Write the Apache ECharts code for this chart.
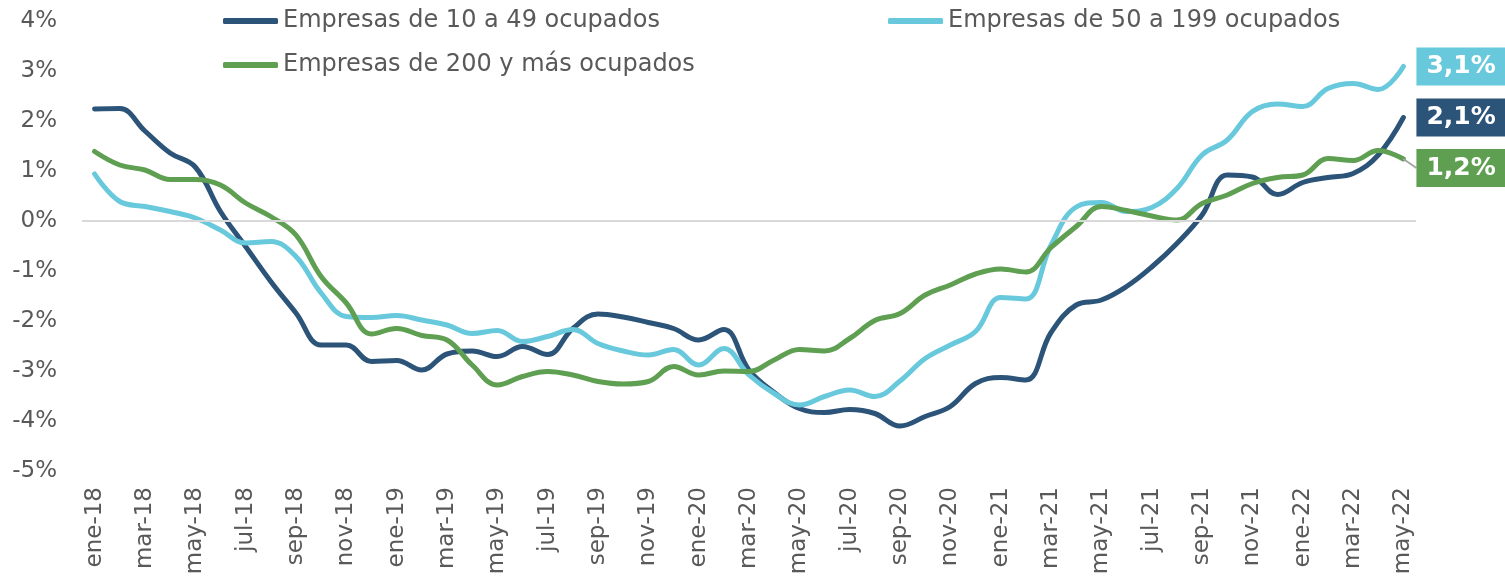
<!DOCTYPE html>
<html>
<head>
<meta charset="utf-8">
<script src="https://cdn.jsdelivr.net/npm/echarts@6/dist/echarts.min.js"></script>
<style>
  html, body { margin: 0; padding: 0; background: #fff; }
  #chart { width: 1505px; height: 579px; }
</style>
</head>
<body>
<div id="chart"></div>
<script>
// meses (ene-18 ... may-22)
const months = [
  'ene-18', 'feb-18', 'mar-18', 'abr-18', 'may-18', 'jun-18', 'jul-18', 'ago-18', 'sep-18', 'oct-18', 'nov-18', 'dic-18',
  'ene-19', 'feb-19', 'mar-19', 'abr-19', 'may-19', 'jun-19', 'jul-19', 'ago-19', 'sep-19', 'oct-19', 'nov-19', 'dic-19',
  'ene-20', 'feb-20', 'mar-20', 'abr-20', 'may-20', 'jun-20', 'jul-20', 'ago-20', 'sep-20', 'oct-20', 'nov-20', 'dic-20',
  'ene-21', 'feb-21', 'mar-21', 'abr-21', 'may-21', 'jun-21', 'jul-21', 'ago-21', 'sep-21', 'oct-21', 'nov-21', 'dic-21',
  'ene-22', 'feb-22', 'mar-22', 'abr-22', 'may-22'
]

const names = ['Empresas de 10 a 49 ocupados', 'Empresas de 50 a 199 ocupados', 'Empresas de 200 y más ocupados']

// tasa de variación (%)
const small = [
  2.24, 2.25, 1.80, 1.36, 1.08, 0.19, -0.51, -1.21, -1.84, -2.48, -2.48, -2.81,
  -2.79, -2.98, -2.66, -2.60, -2.71, -2.51, -2.67, -2.15, -1.86, -1.92, -2.03, -2.15,
  -2.38, -2.17, -2.98, -3.43, -3.75, -3.83, -3.77, -3.85, -4.10, -3.91, -3.71, -3.25,
  -3.13, -3.18, -2.23, -1.68, -1.58, -1.31, -0.92, -0.45, 0.12, 0.92, 0.88, 0.53,
  0.77, 0.87, 0.95, 1.32, 2.07
]
const medium = [
  0.94, 0.39, 0.29, 0.19, 0.06, -0.18, -0.44, -0.41, -0.71, -1.44, -1.91, -1.93,
  -1.89, -1.98, -2.08, -2.25, -2.19, -2.41, -2.31, -2.17, -2.45, -2.60, -2.68, -2.57,
  -2.88, -2.55, -3.08, -3.45, -3.68, -3.51, -3.38, -3.51, -3.20, -2.75, -2.48, -2.21,
  -1.53, -1.56, -0.48, 0.28, 0.37, 0.19, 0.27, 0.65, 1.32, 1.62, 2.19, 2.34,
  2.29, 2.65, 2.75, 2.63, 3.09
]
const large = [
  1.39, 1.12, 1.02, 0.83, 0.83, 0.72, 0.36, 0.09, -0.28, -1.11, -1.64, -2.26,
  -2.15, -2.29, -2.38, -2.88, -3.28, -3.11, -3.01, -3.08, -3.21, -3.26, -3.21, -2.91,
  -3.08, -3.00, -3.01, -2.78, -2.57, -2.60, -2.35, -1.99, -1.85, -1.48, -1.28, -1.06,
  -0.96, -1.02, -0.53, -0.11, 0.29, 0.21, 0.10, 0.02, 0.35, 0.52, 0.75, 0.87,
  0.92, 1.25, 1.21, 1.41, 1.24
]

const colors = ['#2C5479', '#69C9DC', '#5F9F52']
const FONT = 'DejaVu Sans'
const TEXT_COLOR = '#595959'

const chart = echarts.init(document.getElementById('chart'))

// último dato con etiqueta de color
function withEndLabel(values, color) {
  const last = values.length - 1
  return values.map((v, i) => {
    if (i !== last) return v
    return {
      value: v,
      label: {
        show: true,
        position: 'right',
        distance: 13,
        formatter: (p) => p.value.toFixed(1).replace('.', ',') + '%',
        color: '#fff',
        fontFamily: FONT,
        fontWeight: 'bold',
        fontSize: 25,
        lineHeight: 26,
        backgroundColor: color,
        padding: [6, 10, 6, 10]
      }
    }
  })
}

function legendAt(name, left, top) {
  return {
    data: [name],
    left: left,
    top: top,
    padding: 0,
    icon: 'roundRect',
    itemWidth: 55,
    itemHeight: 6,
    selectedMode: false,
    textStyle: { color: TEXT_COLOR, fontFamily: FONT, fontSize: 24 }
  }
}

function lineSeries(name, values, color, extra) {
  return Object.assign({
    name: name,
    type: 'line',
    data: withEndLabel(values, color),
    smooth: 0.4,
    symbol: 'circle',
    symbolSize: 0,
    showSymbol: true,
    lineStyle: { color: color, width: 5, cap: 'round' },
    itemStyle: { color: color },
    emphasis: { disabled: true }
  }, extra || {})
}

const option = {
  animation: false,
  textStyle: { fontFamily: FONT },
  legend: [
    legendAt(names[0], 223, 9),
    legendAt(names[1], 888, 9),
    legendAt(names[2], 223, 53)
  ],
  grid: { left: 82, right: 89, top: 21, bottom: 108 },
  xAxis: {
    type: 'category',
    data: months,
    boundaryGap: true,
    axisLine: { show: false },
    axisTick: { show: false },
    axisLabel: {
      interval: 1,
      rotate: 90,
      margin: 16,
      color: TEXT_COLOR,
      fontFamily: FONT,
      fontSize: 23
    }
  },
  yAxis: {
    type: 'value',
    min: -5,
    max: 4,
    interval: 1,
    axisLine: { show: false },
    axisTick: { show: false },
    splitLine: { show: false },
    axisLabel: {
      formatter: '{value}%',
      margin: 25,
      color: TEXT_COLOR,
      fontFamily: FONT,
      fontSize: 23
    }
  },
  series: [
    lineSeries(names[0], small, colors[0], {
      // línea del cero
      markLine: {
        silent: true,
        symbol: 'none',
        label: { show: false },
        lineStyle: { color: '#D9D9D9', width: 2, type: 'solid' },
        data: [{ yAxis: 0 }]
      }
    }),
    lineSeries(names[1], medium, colors[1]),
    lineSeries(names[2], large, colors[2], {
      labelLayout: { dy: 9 },
      labelLine: { show: true, lineStyle: { color: '#A6A6A6', width: 2 } }
    })
  ]
}

chart.setOption(option)
</script>
</body>
</html>
